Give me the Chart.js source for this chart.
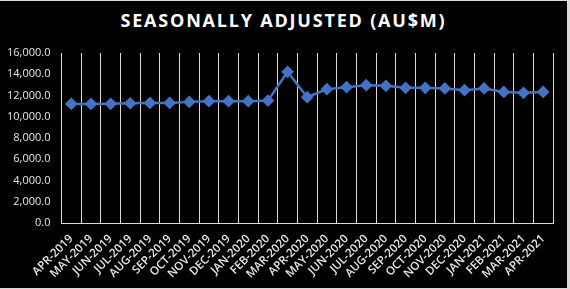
<!DOCTYPE html>
<html>
<head>
<meta charset="utf-8">
<script src="https://cdn.jsdelivr.net/npm/chart.js@4/dist/chart.umd.min.js"></script>
<style>
  html, body { margin: 0; padding: 0; background: #d9d9d9; width: 570px; height: 289px; overflow: hidden; }
  #wrap { position: absolute; left: 0; top: 1px; width: 567px; height: 287px; background: #000; }
  #title { position: absolute; left: 0; top: 7px; width: 567px; text-align: center; color: #fff;
           font: bold 18px "Open Sans", sans-serif; letter-spacing: 1.8px; }
  canvas { position: absolute; left: 0; top: 0; }
</style>
</head>
<body>
<div id="wrap">
  <div id="title">SEASONALLY ADJUSTED (AU$M)</div>
  <canvas id="chart" width="567" height="287"></canvas>
</div>
<script>
const months = ["APR-2019", "MAY-2019", "JUN-2019", "JUL-2019", "AUG-2019", "SEP-2019", "OCT-2019",
  "NOV-2019", "DEC-2019", "JAN-2020", "FEB-2020", "MAR-2020", "APR-2020", "MAY-2020", "JUN-2020",
  "JUL-2020", "AUG-2020", "SEP-2020", "OCT-2020", "NOV-2020", "DEC-2020", "JAN-2021", "FEB-2021",
  "MAR-2021", "APR-2021"];

const adjusted = [11210, 11210, 11220, 11270, 11300, 11300, 11400, 11460, 11460, 11460, 11520,
  14230, 11840, 12600, 12780, 12970, 12910, 12720, 12720, 12660, 12500, 12660, 12340, 12250, 12340];

const yMin = 0;
const yMax = 16000;
const yStep = 2000;

const gridColor = "#d9d9d9";
const lineColor = "#4472c4";

new Chart(document.getElementById("chart"), {
  type: "line",
  data: {
    labels: months,
    datasets: [{
      label: "Seasonally adjusted",
      data: adjusted,
      borderColor: lineColor,
      backgroundColor: lineColor,
      borderWidth: 2.5,
      pointStyle: "rectRot",
      pointRadius: 4.6,
      tension: 0
    }]
  },
  options: {
    responsive: false,
    animation: false,
    layout: { padding: { top: 52, right: 14, left: 0, bottom: 0 } },
    plugins: {
      legend: { display: false },
      title: { display: false },
      tooltip: { enabled: false }
    },
    scales: {
      x: {
        offset: true,
        grid: { offset: true, color: gridColor, lineWidth: 1, drawTicks: false },
        border: { color: gridColor },
        ticks: {
          color: "#e6e6e6",
          font: { family: "Open Sans", size: 11.5, weight: "600" },
          maxRotation: 45,
          minRotation: 45,
          padding: 9,
          autoSkip: false
        },
        afterFit: s => { s.height = 65; }
      },
      y: {
        min: yMin,
        max: yMax,
        ticks: {
          stepSize: yStep,
          color: "#e6e6e6",
          font: { family: "Open Sans", size: 11 },
          padding: 11,
          callback: v => v.toLocaleString("en-US", { minimumFractionDigits: 1, maximumFractionDigits: 1 })
        },
        grid: { display: false, drawTicks: false },
        border: { display: false },
        afterFit: s => { s.width = 61.5; }
      }
    }
  }
});
</script>
</body>
</html>
